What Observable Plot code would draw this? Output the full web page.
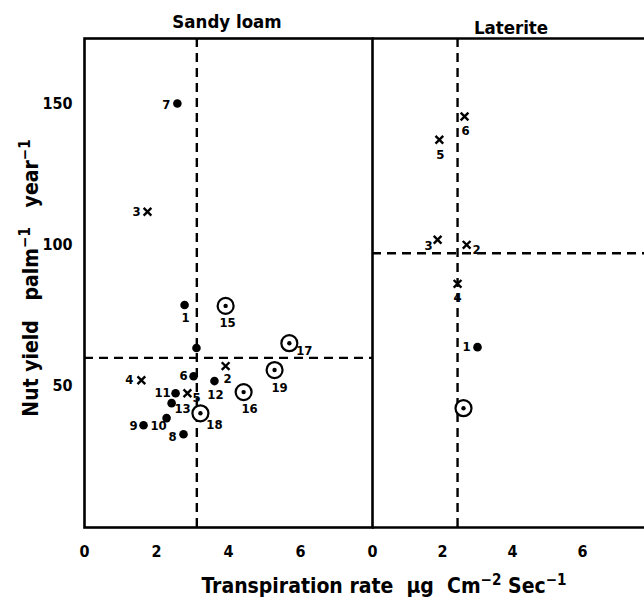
<!DOCTYPE html>
<html>
<head>
<meta charset="utf-8">
<script src="https://cdn.jsdelivr.net/npm/d3@7"></script>
<script src="https://cdn.jsdelivr.net/npm/@observablehq/plot@0.6"></script>
<style>
  html, body { margin: 0; padding: 0; background: #fff; overflow: hidden; }
  #wrap { position: relative; width: 644px; height: 615px; overflow: hidden; font-family: "DejaVu Sans Condensed", "DejaVu Sans", sans-serif; color: #000; }
  .abs { position: absolute; }
  .ttl { font-weight: bold; font-size: 21px; white-space: nowrap; }
  .ttl sup { font-size: 0.72em; vertical-align: 0.5em; line-height: 0; }
  .panel { font-weight: bold; font-size: 18.5px; white-space: nowrap; }
</style>
</head>
<body>
<div id="wrap"></div>
<script>
// ---------- data ----------
const panels = ["Sandy loam", "Laterite"];
const xTicks = [0, 2, 4, 6];
const yTicks = [50, 100, 150];

// Sandy loam
const sandyLabel = ["7", "3", "1", "15", "", "17", "2", "4", "6", "12", "19", "16", "11", "5", "13", "18", "10", "9", "8"];
const sandyType  = ["dot", "cross", "dot", "ring", "dot", "ring", "cross", "cross", "dot", "dot", "ring", "ring", "dot", "cross", "dot", "ring", "dot", "dot", "dot"];
const sandyRate  = [2.58, 1.75, 2.78, 3.92, 3.11, 5.69, 3.92, 1.58, 3.03, 3.61, 5.28, 4.42, 2.53, 2.86, 2.42, 3.22, 2.28, 1.64, 2.75];
const sandyYield = [150, 111.7, 78.7, 78.4, 63.5, 65.2, 57.1, 52.1, 53.5, 51.8, 55.7, 47.9, 47.5, 47.5, 44.0, 40.4, 38.7, 36.2, 33.0];
const sandyMeanRate = 3.12;
const sandyMeanYield = 60;

// Laterite
const latLabel = ["6", "5", "3", "2", "4", "1", ""];
const latType  = ["cross", "cross", "cross", "cross", "cross", "dot", "ring"];
const latRate  = [2.63, 1.91, 1.86, 2.69, 2.43, 3.0, 2.6];
const latYield = [145.4, 137.2, 101.8, 100, 86.2, 63.8, 42.2];
const latMeanRate = 2.43;
const latMeanYield = 97;

const yDomain = [0, 173];

// ---------- label placement (style) ----------
const sandyOffsets = {
  "7": [-11, 1], "3": [-11, 0], "1": [1, 13], "15": [2, 17], "17": [15, 8], "2": [2, 13],
  "4": [-12, 0], "6": [-10, 0], "12": [1, 14], "19": [5, 18], "16": [6, 17], "11": [-13, 0],
  "5": [9, 5], "13": [11, 6], "18": [14, 12], "10": [-8, 8], "9": [-10, 1], "8": [-11, 3]
};
const latOffsets = { "6": [1, 14], "5": [1, 15], "3": [-9, 6], "2": [10, 5], "4": [0, 14], "1": [-11, 0] };

function rows(rate, yld, type, label) {
  return rate.map((r, i) => ({ rate: r, yield: yld[i], type: type[i], label: label[i] }));
}

const sandy = rows(sandyRate, sandyYield, sandyType, sandyLabel);
const lat = rows(latRate, latYield, latType, latLabel);

function pointMarks(data, offsets) {
  const marks = [
    Plot.dot(data.filter(d => d.type === "dot"), { x: "rate", y: "yield", r: 4.3, fill: "#000", stroke: "none" }),
    Plot.dot(data.filter(d => d.type === "ring"), { x: "rate", y: "yield", r: 8, fill: "#fff", stroke: "#000", strokeWidth: 2.2 }),
    Plot.dot(data.filter(d => d.type === "ring"), { x: "rate", y: "yield", r: 2.2, fill: "#000", stroke: "none" }),
    Plot.dot(data.filter(d => d.type === "cross"), { x: "rate", y: "yield", symbol: "times", r: 3.6, stroke: "#000", strokeWidth: 2.4 })
  ];
  data.filter(d => d.label && offsets[d.label]).forEach(d => {
    const [dx, dy] = offsets[d.label];
    marks.push(Plot.text([d], { x: "rate", y: "yield", text: "label", dx, dy, fontSize: 13, fontWeight: "bold", fill: "#000" }));
  });
  return marks;
}

const common = {
  height: 615,
  marginTop: 38,
  marginBottom: 88,
  y: { domain: yDomain },
  style: { fontFamily: "'DejaVu Sans Condensed', 'DejaVu Sans', sans-serif", fontSize: "16px", fontWeight: "bold", color: "#000", background: "transparent", overflow: "visible" }
};

const dash = "9,6";

const left = Plot.plot({
  ...common,
  width: 372,
  marginLeft: 84,
  marginRight: 0,
  x: { domain: [0, 8] },
  marks: [
    Plot.ruleX([sandyMeanRate], { stroke: "#000", strokeWidth: 2.4, strokeDasharray: dash }),
    Plot.ruleY([sandyMeanYield], { stroke: "#000", strokeWidth: 2.4, strokeDasharray: dash }),
    Plot.frame({ stroke: "#000", strokeWidth: 2.6 }),
    Plot.axisX({ ticks: xTicks, tickSize: 0, tickPadding: 18, tickFormat: d => String(d), label: null, fontSize: 16 }),
    Plot.axisY({ ticks: yTicks, tickSize: 0, tickPadding: 12, tickFormat: d => String(d), label: null, fontSize: 16 }),
    ...pointMarks(sandy, sandyOffsets)
  ]
});

const right = Plot.plot({
  ...common,
  width: 282,
  marginLeft: 10,
  marginRight: 0,
  x: { domain: [0, 272 / 35] },
  marks: [
    Plot.ruleX([latMeanRate], { stroke: "#000", strokeWidth: 2.4, strokeDasharray: dash }),
    Plot.ruleY([latMeanYield], { stroke: "#000", strokeWidth: 2.4, strokeDasharray: dash }),
    Plot.ruleY(yDomain, { stroke: "#000", strokeWidth: 2.6 }),
    Plot.axisX({ ticks: xTicks, tickSize: 0, tickPadding: 18, tickFormat: d => String(d), label: null, fontSize: 16 }),
    Plot.axisY({ ticks: [], label: null }),
    ...pointMarks(lat, latOffsets)
  ]
});

const wrap = document.getElementById("wrap");
left.classList.add("abs"); left.style.left = "0px"; left.style.top = "0px";
right.classList.add("abs"); right.style.left = "362px"; right.style.top = "0px";
wrap.appendChild(left);
wrap.appendChild(right);

function addText(html, cls, css) {
  const d = document.createElement("div");
  d.className = "abs " + cls;
  d.innerHTML = html;
  Object.assign(d.style, css);
  wrap.appendChild(d);
  return d;
}

addText(panels[0], "panel", { left: "227px", top: "11px", transform: "translateX(-50%)" });
addText(panels[1], "panel", { left: "511px", top: "17px", transform: "translateX(-50%)" });
addText("Transpiration rate &nbsp;µg &nbsp;Cm<sup>−2</sup> Sec<sup>−1</sup>", "ttl",
  { left: "384px", top: "574px", transform: "translateX(-50%)" });
addText("Nut yield &nbsp;&nbsp;palm<sup>−1</sup> &nbsp;&nbsp;year<sup>−1</sup>", "ttl",
  { left: "31px", top: "278px", transform: "translate(-50%, -50%) rotate(-90deg)" });
</script>
</body>
</html>
